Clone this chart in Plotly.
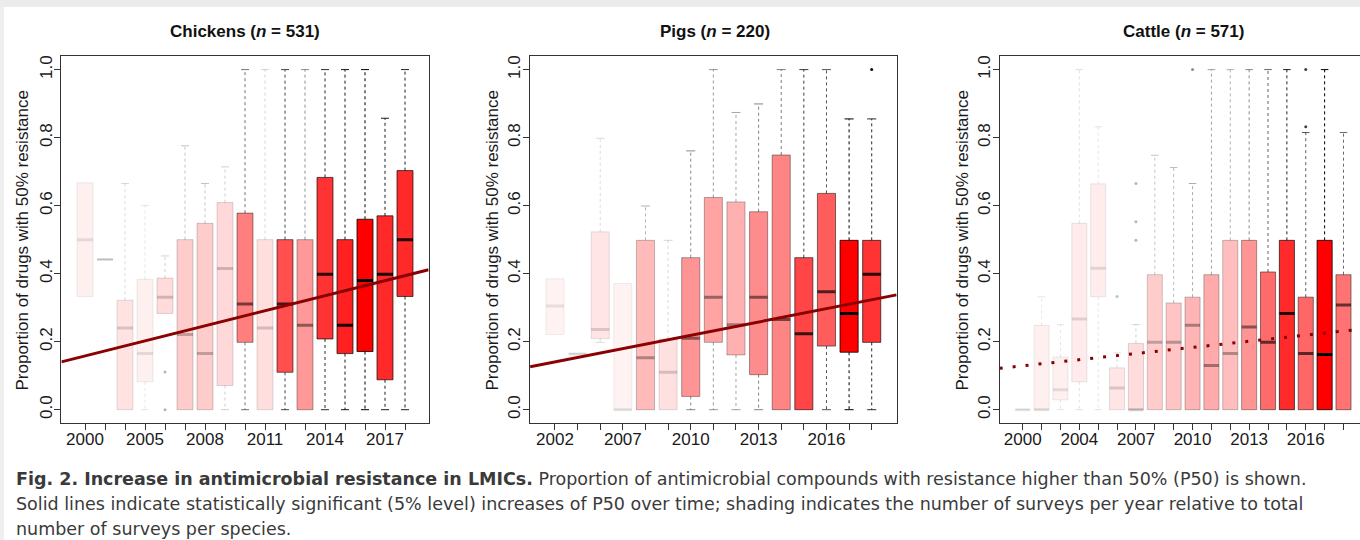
import plotly.graph_objects as go

# ---------------- data ----------------
# Chickens (n = 531)
chk_years = [2000, 2003, 2004, 2005, 2006, 2007, 2008, 2009, 2010, 2011, 2012, 2013, 2014, 2015, 2016, 2017, 2018]
chk_shown = [2000, 2005, 2008, 2011, 2014, 2017]
chk_q1 = [0.333, 0.442, 0.0, 0.082, 0.283, 0.0, 0.0, 0.071, 0.198, 0.0, 0.110, 0.0, 0.208, 0.165, 0.171, 0.088, 0.333]
chk_med = [0.500, 0.442, 0.240, 0.165, 0.331, 0.221, 0.165, 0.415, 0.311, 0.240, 0.311, 0.248, 0.398, 0.248, 0.380, 0.398, 0.500]
chk_q3 = [0.667, 0.442, 0.322, 0.383, 0.387, 0.500, 0.548, 0.609, 0.578, 0.500, 0.500, 0.500, 0.683, 0.500, 0.560, 0.570, 0.703]
chk_lo = [0.333, 0.442, 0.0, 0.0, 0.283, 0.0, 0.0, 0.0, 0.0, 0.0, 0.0, 0.0, 0.0, 0.0, 0.0, 0.0, 0.0]
chk_hi = [0.667, 0.442, 0.665, 0.600, 0.452, 0.776, 0.665, 0.714, 1.0, 1.0, 1.0, 1.0, 1.0, 1.0, 1.0, 0.857, 1.0]
chk_shade = [0.06, 0.08, 0.11, 0.06, 0.14, 0.20, 0.20, 0.15, 0.50, 0.13, 0.69, 0.40, 0.80, 0.87, 1.00, 0.84, 0.84]
chk_out_year = [2006, 2006]
chk_out_val = [0.111, 0.0]
chk_trend_start = 0.158   # fitted P50 at first year position
chk_trend_step = 0.01475  # change per year position

# Pigs (n = 220)
pig_years = [2002, 2005, 2006, 2007, 2008, 2009, 2010, 2011, 2012, 2013, 2014, 2015, 2016, 2017, 2018]
pig_shown = [2002, 2007, 2010, 2013, 2016]
pig_q1 = [0.221, 0.164, 0.209, 0.0, 0.0, 0.0, 0.039, 0.198, 0.161, 0.103, 0.0, 0.0, 0.187, 0.169, 0.198]
pig_med = [0.305, 0.164, 0.236, 0.0, 0.153, 0.110, 0.210, 0.331, 0.250, 0.331, 0.265, 0.223, 0.347, 0.283, 0.398]
pig_q3 = [0.385, 0.164, 0.523, 0.371, 0.498, 0.208, 0.447, 0.624, 0.611, 0.582, 0.749, 0.447, 0.636, 0.498, 0.498]
pig_lo = [0.221, 0.164, 0.198, 0.0, 0.0, 0.0, 0.0, 0.0, 0.0, 0.0, 0.0, 0.0, 0.0, 0.0, 0.0]
pig_hi = [0.385, 0.164, 0.798, 0.371, 0.599, 0.498, 0.761, 1.0, 0.874, 0.899, 1.0, 1.0, 1.0, 0.855, 0.855]
pig_shade = [0.05, 0.06, 0.10, 0.05, 0.27, 0.12, 0.42, 0.36, 0.31, 0.45, 0.48, 0.73, 0.64, 1.00, 0.80]
pig_out_year = [2018]
pig_out_val = [1.0]
pig_trend_start = 0.1405
pig_trend_step = 0.01305

# Cattle (n = 571)
cat_years = [2000, 2002, 2003, 2004, 2005, 2006, 2007, 2008, 2009, 2010, 2011, 2012, 2013, 2014, 2015, 2016, 2017, 2018]
cat_shown = [2000, 2004, 2007, 2010, 2013, 2016]
cat_q1 = [0.0, 0.0, 0.029, 0.082, 0.332, 0.0, 0.0, 0.0, 0.0, 0.0, 0.0, 0.0, 0.0, 0.0, 0.0, 0.0, 0.0, 0.0]
cat_med = [0.0, 0.0, 0.059, 0.267, 0.416, 0.064, 0.0, 0.198, 0.198, 0.248, 0.130, 0.165, 0.243, 0.198, 0.283, 0.165, 0.162, 0.308]
cat_q3 = [0.0, 0.248, 0.155, 0.548, 0.664, 0.123, 0.195, 0.397, 0.314, 0.331, 0.397, 0.498, 0.498, 0.405, 0.498, 0.331, 0.498, 0.397]
cat_lo = [0.0, 0.0, 0.0, 0.0, 0.0, 0.0, 0.0, 0.0, 0.0, 0.0, 0.0, 0.0, 0.0, 0.0, 0.0, 0.0, 0.0, 0.0]
cat_hi = [0.0, 0.332, 0.250, 1.0, 0.832, 0.167, 0.250, 0.748, 0.712, 0.665, 1.0, 1.0, 1.0, 1.0, 1.0, 0.815, 1.0, 0.815]
cat_shade = [0.05, 0.06, 0.06, 0.08, 0.07, 0.10, 0.14, 0.20, 0.23, 0.29, 0.33, 0.26, 0.42, 0.58, 0.83, 0.60, 1.00, 0.55]
cat_out_year = [2006, 2007, 2007, 2007, 2010, 2016, 2016]
cat_out_val = [0.333, 0.498, 0.553, 0.665, 1.0, 0.832, 1.0]
cat_trend_start = 0.129
cat_trend_step = 0.00602

y_ticks = [0.0, 0.2, 0.4, 0.6, 0.8, 1.0]
panel_titles = ["<b>Chickens (<i>n</i> = 531)</b>", "<b>Pigs (<i>n</i> = 220)</b>", "<b>Cattle (<i>n</i> = 571)</b>"]
y_title = "Proportion of drugs with 50% resistance"
caption = [
    "<b>Fig. 2. Increase in antimicrobial resistance in LMICs.</b> Proportion of antimicrobial compounds with resistance higher than 50% (P50) is shown.",
    "Solid lines indicate statistically significant (5% level) increases of P50 over time; shading indicates the number of surveys per year relative to total",
    "number of surveys per species.",
]

# ---------------- layout geometry (pixels) ----------------
W, H = 1360, 540
FONT = "Liberation Sans, Arial, sans-serif"
CAPFONT = "DejaVu Sans, sans-serif"
panels = [
    dict(years=chk_years, shown=chk_shown, q1=chk_q1, med=chk_med, q3=chk_q3, lo=chk_lo, hi=chk_hi,
         shade=chk_shade, oy=chk_out_year, ov=chk_out_val, t0=chk_trend_start, ts=chk_trend_step,
         dash="solid", left=61.4, right=428.6, xr=(-1.18, 17.18), mirror=True, ytitle_x=22),
    dict(years=pig_years, shown=pig_shown, q1=pig_q1, med=pig_med, q3=pig_q3, lo=pig_lo, hi=pig_hi,
         shade=pig_shade, oy=pig_out_year, ov=pig_out_val, t0=pig_trend_start, ts=pig_trend_step,
         dash="solid", left=530.1, right=896.6, xr=(-1.1, 15.1), mirror=True, ytitle_x=492),
    dict(years=cat_years, shown=cat_shown, q1=cat_q1, med=cat_med, q3=cat_q3, lo=cat_lo, hi=cat_hi,
         shade=cat_shade, oy=cat_out_year, ov=cat_out_val, t0=cat_trend_start, ts=cat_trend_step,
         dash="3px,10px", left=999.7, right=1360, xr=(-1.22, 17.875), mirror=False, ytitle_x=962),
]
title_cx = [245, 714.5, 1183.5]
frame_top, frame_bot = 56, 423.3
ydom = [1 - frame_bot / H, 1 - frame_top / H]

fig = go.Figure()
layout = dict(
    width=W, height=H, margin=dict(l=0, r=0, t=0, b=0),
    paper_bgcolor="white", plot_bgcolor="white", showlegend=False,
    annotations=[], shapes=[],
)

BW = 0.8   # box width (category units)
CAP = 0.2  # half width of whisker staple

for k, p in enumerate(panels):
    sfx = "" if k == 0 else str(k + 1)
    xa, ya = "x" + sfx, "y" + sfx
    n = len(p["years"])
    pos = list(range(n))
    fills = [f"rgba(255,0,0,{a})" for a in p["shade"]]
    borders = [f"rgba(0,0,0,{min(1, a * 0.75 + 0.03)})" for a in p["shade"]]
    # box bodies
    fig.add_trace(go.Bar(
        x=pos, y=[b - a for a, b in zip(p["q1"], p["q3"])], base=p["q1"], width=BW,
        marker=dict(color=fills, line=dict(color=borders, width=1)),
        xaxis=xa, yaxis=ya, hoverinfo="skip", showlegend=False))
    for i in pos:
        a = p["shade"][i]
        lc = f"rgba(0,0,0,{min(1, a + 0.04)})"
        wx, wy, cx, cy = [], [], [], []
        if p["hi"][i] > p["q3"][i]:
            wx += [i, i, None]; wy += [p["q3"][i], p["hi"][i], None]
            cx += [i - CAP, i + CAP, None]; cy += [p["hi"][i], p["hi"][i], None]
        if p["lo"][i] < p["q1"][i]:
            wx += [i, i, None]; wy += [p["q1"][i], p["lo"][i], None]
            cx += [i - CAP, i + CAP, None]; cy += [p["lo"][i], p["lo"][i], None]
        if wx:
            fig.add_trace(go.Scatter(x=wx, y=wy, mode="lines", line=dict(color=lc, width=1, dash="3px,3px"),
                                     xaxis=xa, yaxis=ya, hoverinfo="skip", showlegend=False))
            fig.add_trace(go.Scatter(x=cx, y=cy, mode="lines", line=dict(color=lc, width=1),
                                     xaxis=xa, yaxis=ya, hoverinfo="skip", showlegend=False))
        fig.add_trace(go.Scatter(x=[i - BW / 2, i + BW / 2], y=[p["med"][i], p["med"][i]], mode="lines",
                                 line=dict(color=lc, width=3), xaxis=xa, yaxis=ya,
                                 hoverinfo="skip", showlegend=False))
    ox = [p["years"].index(yv) for yv in p["oy"]]
    oc = [f"rgba(0,0,0,{min(1, p['shade'][j] + 0.15)})" for j in ox]
    fig.add_trace(go.Scatter(x=ox, y=p["ov"], mode="markers", marker=dict(size=3, color=oc),
                             xaxis=xa, yaxis=ya, hoverinfo="skip", showlegend=False))
    x0, x1 = p["xr"][0], p["xr"][1]
    fig.add_trace(go.Scatter(x=[x0, x1], y=[p["t0"] + p["ts"] * x0, p["t0"] + p["ts"] * x1], mode="lines",
                             line=dict(color="#8b0000", width=3, dash=p["dash"]),
                             xaxis=xa, yaxis=ya, hoverinfo="skip", showlegend=False))

    axfont = dict(family=FONT, size=17, color="#1a1a1a")
    layout["xaxis" + sfx] = dict(
        domain=[p["left"] / W, p["right"] / W], range=list(p["xr"]), anchor=ya,
        tickmode="array", tickvals=pos,
        ticktext=[str(yv) if yv in p["shown"] else "" for yv in p["years"]],
        ticks="outside", ticklen=6, tickwidth=1, tickcolor="#333", ticklabelstandoff=-6,
        showline=True, linecolor="#333", linewidth=1, mirror=True,
        showgrid=False, zeroline=False, tickfont=axfont, fixedrange=True)
    layout["yaxis" + sfx] = dict(
        domain=ydom, range=[-0.04, 1.04], anchor=xa,
        tickmode="array", tickvals=y_ticks, ticktext=[f"{v:.1f}" for v in y_ticks], tickangle=-90,
        ticks="outside", ticklen=6, tickwidth=1, tickcolor="#333", ticklabelstandoff=-4,
        showline=True, linecolor="#333", linewidth=1, mirror=p["mirror"],
        showgrid=False, zeroline=False, tickfont=axfont, fixedrange=True)
    layout["annotations"].append(dict(
        text=panel_titles[k], xref="paper", yref="paper", x=title_cx[k] / W,
        y=1 - 32 / H, xanchor="center", yanchor="middle", showarrow=False,
        font=dict(family=FONT, size=17, color="#111")))
    layout["annotations"].append(dict(
        text=y_title, xref="paper", yref="paper", x=p["ytitle_x"] / W, y=1 - 240.5 / H,
        xanchor="center", yanchor="middle", textangle=-90, showarrow=False,
        font=dict(family=FONT, size=17, color="#1a1a1a")))

for j, line in enumerate(caption):
    layout["annotations"].append(dict(
        text=line, xref="paper", yref="paper", x=14 / W, y=1 - (479 + 25 * j) / H,
        xanchor="left", yanchor="middle", showarrow=False, align="left",
        font=dict(family=CAPFONT, size=17.5, color="#3a3a3a")))

layout["shapes"] += [
    dict(type="rect", xref="paper", yref="paper", x0=0, x1=1, y0=1 - 7 / H, y1=1,
         fillcolor="#ebebeb", line=dict(width=0), layer="below"),
    dict(type="rect", xref="paper", yref="paper", x0=0, x1=4 / W, y0=0, y1=1 - 7 / H,
         fillcolor="#efefef", line=dict(width=0), layer="below"),
]

fig.update_layout(**layout)
fig.write_html("out.html", config={"displayModeBar": False, "staticPlot": True},
               post_script="document.body.style.margin='0';document.body.style.overflow='hidden';")
